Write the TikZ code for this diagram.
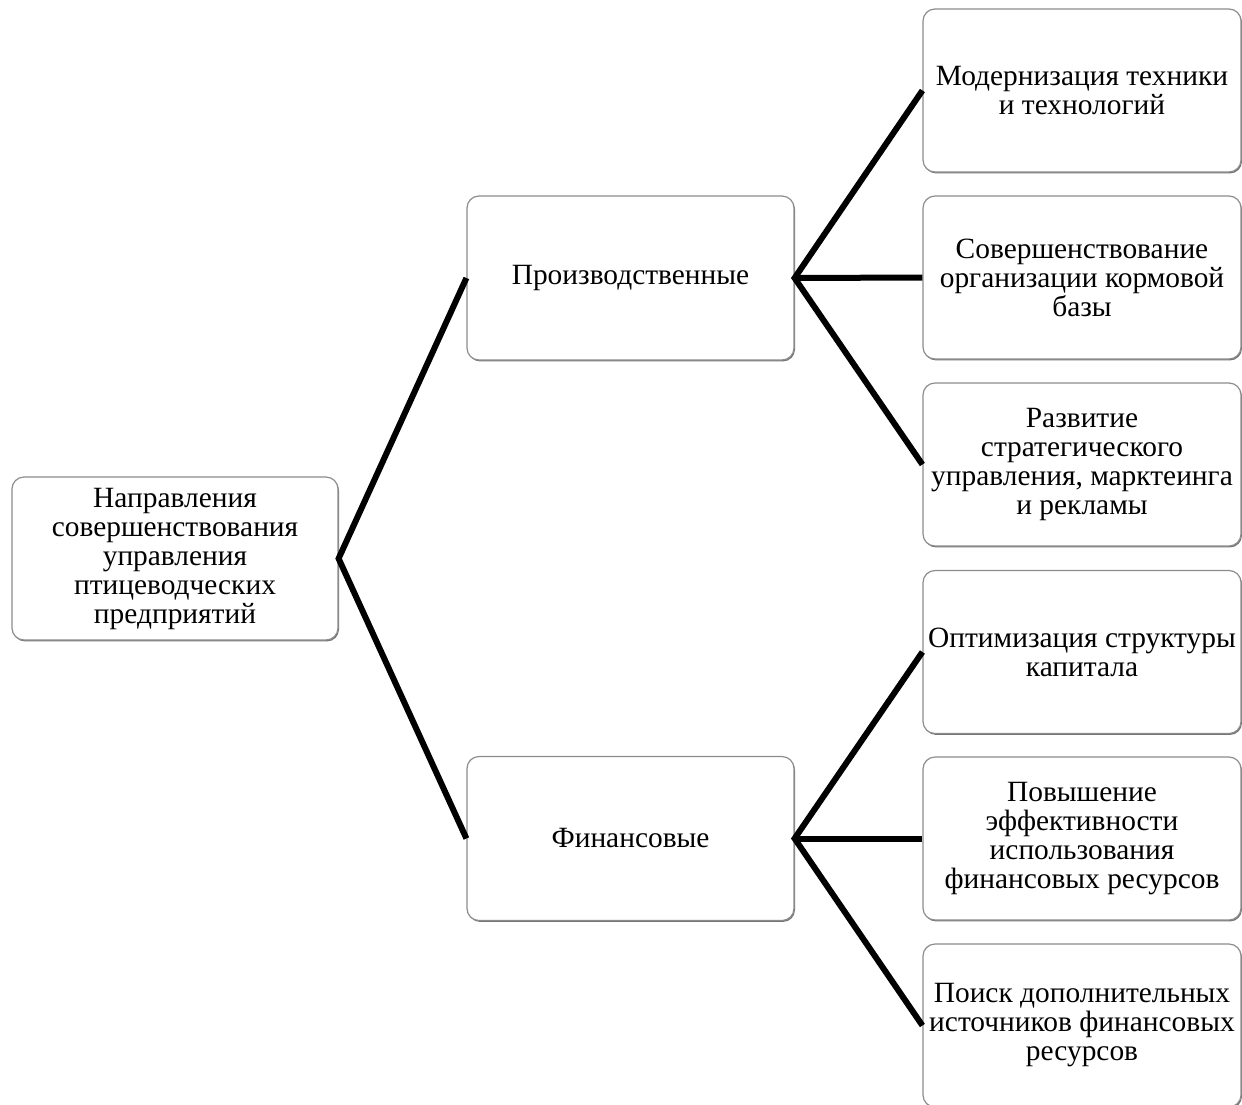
\documentclass[tikz,border=0pt]{standalone}
\usepackage{fontspec}
\setmainfont{Liberation Serif}
\usetikzlibrary{shadows}
\tikzset{
  box/.style={draw=black!45, line width=0.6pt, fill=white, rounded corners=6pt,
    inner sep=0pt, align=center, font=\fontsize{14.7pt}{14.5pt}\selectfont,
    drop shadow={shadow xshift=0.5pt, shadow yshift=-0.7pt, fill=black!55, opacity=1}},
  rootbox/.style={box, minimum width=163pt, minimum height=81.5pt},
  midbox/.style={box, minimum width=163.5pt, minimum height=82pt},
  leafbox/.style={box, minimum width=159pt, minimum height=81.5pt},
  link/.style={line width=3pt, black}
}
\begin{document}
\begin{tikzpicture}[x=0.5pt, y=-0.5pt]
\useasboundingbox (0,0) rectangle (1242,1104);
\node[rootbox] (root) at (175,558.5) {Направления\\совершенствования\\управления\\птицеводческих\\предприятий};
\node[midbox] (prod) at (630.5,278) {Производственные};
\node[midbox] (fin) at (630.5,838.5) {Финансовые};
\node[leafbox] (l1) at (1082,90.5) {Модернизация техники\\и технологий};
\node[leafbox] (l2) at (1082,277.5) {Совершенствование\\организации кормовой\\базы};
\node[leafbox] (l3) at (1082,464.5) {Развитие\\стратегического\\управления, марктеинга\\и рекламы};
\node[leafbox] (l4) at (1082,652) {Оптимизация структуры\\капитала};
\node[leafbox] (l5) at (1082,838.5) {Повышение\\эффективности\\использования\\финансовых ресурсов};
\node[leafbox] (l6) at (1082,1025.5) {Поиск дополнительных\\источников финансовых\\ресурсов};
\draw[link] (prod.west) -- (root.east) -- (fin.west);
\draw[link] (l1.west) -- (prod.east) -- (l3.west);
\draw[link] (prod.east) -- (l2.west);
\draw[link] (l4.west) -- (fin.east) -- (l6.west);
\draw[link] (fin.east) -- (l5.west);
\end{tikzpicture}
\end{document}
